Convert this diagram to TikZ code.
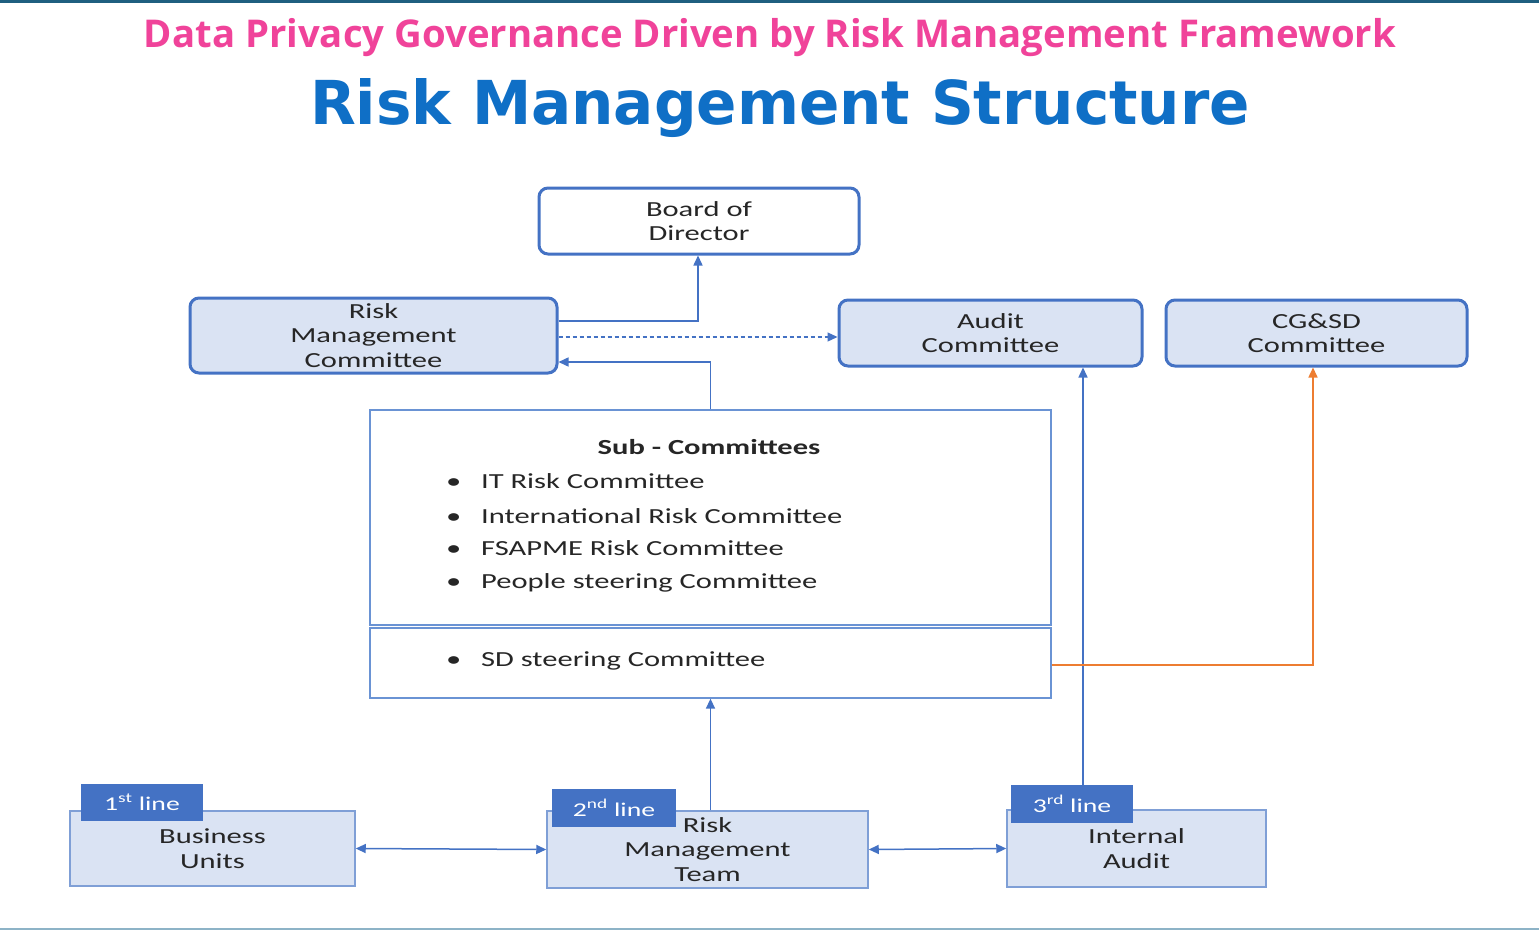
\documentclass[tikz,border=0pt]{standalone}
\usepackage{fontspec}
\setmainfont{Carlito}
\newfontfamily\bodyfont[FakeStretch=1.42]{Carlito}
\newfontfamily\titlefont{Open Sans}
\newfontfamily\bigfont{DejaVu Sans}
\usetikzlibrary{arrows.meta}
\definecolor{bblue}{HTML}{4472C4}
\definecolor{lfill}{HTML}{DAE3F3}
\definecolor{lborder}{HTML}{7F9FD6}
\definecolor{subborder}{HTML}{6A93D4}
\definecolor{pinkt}{HTML}{F0439A}
\definecolor{bluet}{HTML}{0F6FC6}
\definecolor{orng}{HTML}{ED7D31}
\definecolor{topline}{HTML}{1F5F80}
\definecolor{botline}{HTML}{8DB3C7}
\tikzset{
  txt/.style={font=\bodyfont\fontsize{21.5}{24.5}\selectfont, align=center, inner sep=0pt, text=black!85},
  rbox/.style={txt, draw=bblue, line width=3pt, rounded corners=9pt},
  sbox/.style={txt, draw=lborder, fill=lfill, line width=1.5pt},
  tagbox/.style={fill=bblue, inner sep=0pt, text=white, font=\bodyfont\fontsize{19.5}{21}\selectfont},
  subbox/.style={draw=subborder, line width=1.3pt, fill=white, inner sep=0pt},
  item/.style={font=\bodyfont\fontsize{21.5}{24}\selectfont, anchor=base west, inner sep=0pt, text=black!85},
  arr/.style={draw=bblue, line width=1.5pt, -{Triangle[length=10pt,width=9pt]}},
  darr/.style={draw=bblue, line width=1.5pt, {Triangle[length=10pt,width=9pt]}-{Triangle[length=10pt,width=9pt]}},
}
\begin{document}
\begin{tikzpicture}[x=1pt,y=-1pt]
\useasboundingbox (0,0) rectangle (1539,931);
\fill[white] (0,0) rectangle (1539,931);
% frame lines
\fill[topline] (0,0) rectangle (1539,3);
\fill[botline] (0,928) rectangle (1539,930);
% titles
\node (t1) at (770,38) {\resizebox{1252pt}{!}{\titlefont\bfseries\color{pinkt}Data Privacy Governance Driven by Risk Management Framework}};
\node (t2) at (780,108) {\resizebox{940pt}{46pt}{\bigfont\bfseries\color{bluet}Risk Management Structure}};
% top boxes
\node[rbox, fill=white, minimum width=320pt, minimum height=66pt] (board) at (699,221) {Board of\\Director};
\node[rbox, fill=lfill, minimum width=367pt, minimum height=75pt] (rmc) at (373.5,335.5) {Risk\\Management\\Committee};
\node[rbox, fill=lfill, minimum width=303pt, minimum height=66pt] (audit) at (990.5,333) {Audit\\Committee};
\node[rbox, fill=lfill, minimum width=301pt, minimum height=66pt] (cgsd) at (1316.5,333) {CG\&SD\\Committee};
% sub committees
\node[subbox, minimum width=681pt, minimum height=215pt] (sub) at (710.5,517.5) {};
\node[subbox, minimum width=681pt, minimum height=70pt] (sd) at (710.5,663) {};
\node[font=\bodyfont\bfseries\fontsize{21.5}{24}\selectfont, inner sep=0pt, anchor=base, text=black!85] (subt) at (709,454) {Sub - Committees};
\foreach \n/\y/\t in {i1/488/IT Risk Committee, i2/523/International Risk Committee, i3/555/FSAPME Risk Committee, i4/588/People steering Committee, i5/666/SD steering Committee}{
  \node[item] (\n) at (481,\y) {\t};
  \node[item] (\n b) at (446,\y) {\textbullet};
}
% bottom boxes
\node[sbox, minimum width=285pt, minimum height=75pt] (bu) at (212.5,848.5) {Business\\Units};
\node[sbox, minimum width=321pt, minimum height=77pt] (rmt) at (707.5,849.5) {Risk\\Management\\Team};
\node[sbox, minimum width=259pt, minimum height=77pt] (ia) at (1136.5,848.5) {Internal\\Audit};
\node[tagbox, minimum width=122pt, minimum height=37pt] (tag1) at (142,802.5) {1\textsuperscript{st} line};
\node[tagbox, minimum width=124pt, minimum height=38pt] (tag2) at (614,808) {2\textsuperscript{nd} line};
\node[tagbox, minimum width=122pt, minimum height=38pt] (tag3) at (1072,804) {3\textsuperscript{rd} line};
% connectors
\coordinate (xbd) at (698,0);
\coordinate (xia) at (1083,0);
\coordinate (xcg) at (1313,0);
\draw[arr] ([yshift=14.5pt]rmc.east) -| (board.south -| xbd);
\draw[arr, dashed, dash pattern=on 4pt off 3pt, line width=1.2pt] ([yshift=-1.5pt]rmc.east) -- ([yshift=-4pt]audit.west);
\draw[arr] (sub.north) |- ([yshift=-26.5pt]rmc.east);
\draw[arr] (tag3.north -| xia) -- (audit.south -| xia);
\draw[arr, draw=orng] ([yshift=-2pt]sd.east) -| (cgsd.south -| xcg);
\draw[arr] (rmt.north -| sd.south) -- (sd.south);
\draw[darr] (bu.east) -- (rmt.west);
\draw[darr] (rmt.east) -- (ia.west);
\end{tikzpicture}
\end{document}
